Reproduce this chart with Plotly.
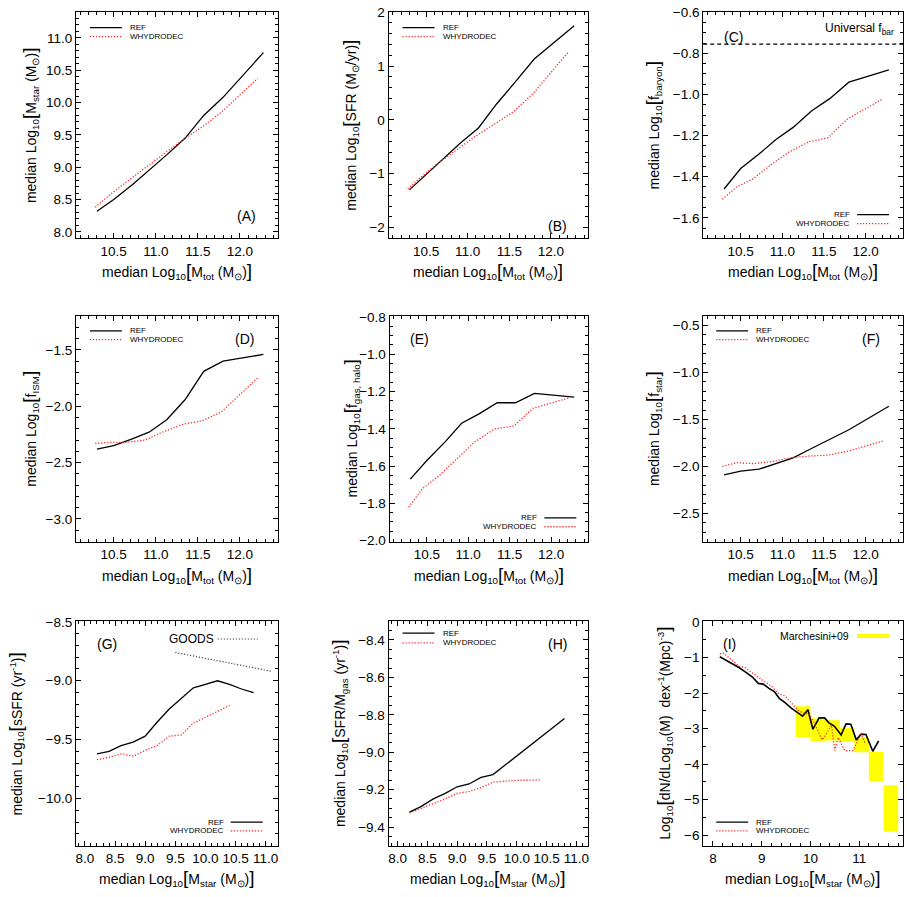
import plotly.graph_objects as go

W, H = 907, 897
FONT = "Liberation Sans, Arial, sans-serif"
RED = "#ff2020"
DOT = "1.2px,1.8px"

# ---------------- data ----------------
# top two rows: median total mass per bin
mtot_ref = [10.30, 10.50, 10.72, 10.92, 11.13, 11.35, 11.57, 11.80, 12.28]
mtot_why = [10.28, 10.45, 10.65, 10.87, 11.08, 11.32, 11.55, 11.78, 12.21]

mstar_ref_A = [8.32, 8.50, 8.73, 8.95, 9.19, 9.45, 9.80, 10.08, 10.77]
mstar_why_A = [8.38, 8.57, 8.77, 8.99, 9.19, 9.42, 9.62, 9.85, 10.37]

sfr_ref_B = [-1.30, -1.02, -0.70, -0.42, -0.15, 0.30, 0.70, 1.13, 1.75]
sfr_why_B = [-1.28, -1.05, -0.80, -0.55, -0.32, -0.08, 0.15, 0.48, 1.26]

fbar_ref_C = [-1.46, -1.36, -1.29, -1.22, -1.16, -1.08, -1.02, -0.94, -0.88]
fbar_why_C = [-1.51, -1.45, -1.41, -1.34, -1.28, -1.23, -1.21, -1.12, -1.02]
fbar_universal = -0.755

fism_ref_D = [-2.38, -2.35, -2.29, -2.23, -2.12, -1.94, -1.69, -1.60, -1.54]
fism_why_D = [-2.33, -2.32, -2.32, -2.30, -2.23, -2.16, -2.13, -2.05, -1.75]

fgas_ref_E = [-1.67, -1.57, -1.47, -1.37, -1.32, -1.26, -1.26, -1.21, -1.23]
fgas_why_E = [-1.82, -1.72, -1.65, -1.56, -1.47, -1.40, -1.385, -1.29, -1.235]

fstar_ref_F = [-2.09, -2.05, -2.03, -1.97, -1.91, -1.81, -1.71, -1.61, -1.36]
fstar_why_F = [-2.00, -1.96, -1.97, -1.95, -1.91, -1.89, -1.88, -1.84, -1.73]

# bottom row: median stellar mass per bin
mst_ref = [8.2, 8.4, 8.6, 8.8, 9.0, 9.2, 9.4, 9.6, 9.8, 10.0, 10.2, 10.4, 10.6, 10.8]
mst_why = [8.2, 8.4, 8.6, 8.8, 9.0, 9.2, 9.4, 9.6, 9.8, 10.0, 10.2, 10.4]

ssfr_ref_G = [-9.62, -9.60, -9.55, -9.52, -9.47, -9.35, -9.24, -9.15, -9.06, -9.03, -9.00, -9.03, -9.07, -9.10]
ssfr_why_G = [-9.67, -9.65, -9.62, -9.64, -9.59, -9.55, -9.47, -9.46, -9.36, -9.31, -9.26, -9.21]
goods_x = [9.5, 11.1]
goods_y = [-8.76, -8.92]

sfe_ref_H = [-9.32, -9.29, -9.25, -9.22, -9.185, -9.17, -9.135, -9.12, -9.07, -9.02, -8.97, -8.92, -8.87, -8.82]
sfe_why_H = [-9.325, -9.30, -9.275, -9.25, -9.22, -9.21, -9.19, -9.16, -9.155, -9.15, -9.15, -9.148]

smf_ref_x = [8.14, 8.26, 8.40, 8.54, 8.67, 8.81, 8.93, 9.03, 9.15, 9.26, 9.36, 9.48, 9.60, 9.71, 9.84,
             9.95, 10.05, 10.18, 10.29, 10.38, 10.49, 10.63, 10.73, 10.83, 10.94, 11.04, 11.14, 11.28, 11.40]
smf_ref_y = [-0.98, -1.07, -1.18, -1.29, -1.41, -1.55, -1.73, -1.75, -1.87, -1.96, -2.15, -2.27, -2.42, -2.52, -2.65,
             -2.47, -3.02, -2.70, -2.70, -2.84, -2.93, -3.18, -2.87, -2.88, -3.32, -3.16, -3.17, -3.64, -3.35]
smf_why_x = [8.14, 8.22, 8.40, 8.54, 8.64, 8.81, 8.93, 9.07, 9.21, 9.36, 9.48, 9.60, 9.73, 9.84,
             9.96, 10.07, 10.24, 10.33, 10.43, 10.50, 10.57, 10.70, 10.87, 11.04, 11.12]
smf_why_y = [-0.90, -0.88, -1.09, -1.25, -1.27, -1.44, -1.57, -1.69, -1.82, -2.03, -2.08, -2.27, -2.47, -2.56,
             -2.58, -2.82, -3.32, -3.14, -2.90, -3.62, -3.25, -3.62, -3.62, -3.16, -3.40]

march_xlo = [9.7, 10.0, 10.3, 10.6, 10.9, 11.2, 11.5]
march_xhi = [10.0, 10.3, 10.6, 10.9, 11.2, 11.5, 11.8]
march_ylo = [-3.25, -3.35, -3.34, -3.37, -3.67, -4.48, -5.90]
march_yhi = [-2.37, -2.71, -2.77, -2.97, -3.25, -3.66, -4.60]

# ---------------- layout helpers ----------------
def px(x):
    return x / W

def py(y):
    return 1 - y / H

# panel boxes in pixels: (left, right, top, bottom)
boxes = {
    1: (76, 278, 5, 235), 2: (389, 589, 5, 235), 3: (704, 904, 5, 235),
    4: (76, 278, 314, 543), 5: (390, 589, 314, 543), 6: (704, 904, 314, 543),
    7: (76, 278, 624, 852), 8: (389, 589, 624, 852), 9: (704, 904, 624, 852),
}

fig = go.Figure()

def ax(k):
    return ("x" if k == 1 else f"x{k}"), ("y" if k == 1 else f"y{k}")

def line(k, x, y, ref=True, **kw):
    xa, ya = ax(k)
    if ref:
        style = dict(color="black", width=1.3)
    else:
        style = dict(color=RED, width=1.3, dash=DOT)
    style.update(kw)
    fig.add_trace(go.Scatter(x=x, y=y, mode="lines", line=style, xaxis=xa, yaxis=ya,
                             showlegend=False, hoverinfo="skip"))

# Marchesini boxes (panel I) drawn first
for xl, xh, yl, yh in zip(march_xlo, march_xhi, march_ylo, march_yhi):
    fig.add_trace(go.Scatter(x=[xl, xh, xh, xl, xl], y=[yl, yl, yh, yh, yl], mode="lines",
                             fill="toself", fillcolor="#ffff00", line=dict(width=0, color="#ffff00"),
                             xaxis="x9", yaxis="y9", showlegend=False, hoverinfo="skip"))

line(1, mtot_ref, mstar_ref_A); line(1, mtot_why, mstar_why_A, ref=False)
line(2, mtot_ref, sfr_ref_B); line(2, mtot_why, sfr_why_B, ref=False)
line(3, mtot_ref, fbar_ref_C); line(3, mtot_why, fbar_why_C, ref=False)
line(4, mtot_ref, fism_ref_D); line(4, mtot_why, fism_why_D, ref=False)
line(5, mtot_ref, fgas_ref_E); line(5, mtot_why, fgas_why_E, ref=False)
line(6, mtot_ref, fstar_ref_F); line(6, mtot_why, fstar_why_F, ref=False)
line(7, goods_x, goods_y, color="#444444", width=1.2, dash=DOT)
line(7, mst_ref, ssfr_ref_G); line(7, mst_why, ssfr_why_G, ref=False)
line(8, mst_ref, sfe_ref_H); line(8, mst_why, sfe_why_H, ref=False)
line(9, smf_ref_x, smf_ref_y, width=1.6); line(9, smf_why_x, smf_why_y, ref=False)

# axes
xr_top = [10.05, 12.45]
xr_bot = [7.85, 11.2]
axes_cfg = {
    1: dict(xr=xr_top, xd=0.5, xm=0.1, xf=".1f", yr=[7.9, 11.4], yd=0.5, ym=0.1, yf=".1f", y0=8.0),
    2: dict(xr=xr_top, xd=0.5, xm=0.1, xf=".1f", yr=[-2.2, 2.005], yd=1, ym=0.2, yf="d", y0=0),
    3: dict(xr=xr_top, xd=0.5, xm=0.1, xf=".1f", yr=[-1.7, -0.598], yd=0.2, ym=0.05, yf=".1f", y0=-1.0),
    4: dict(xr=xr_top, xd=0.5, xm=0.1, xf=".1f", yr=[-3.2, -1.2], yd=0.5, ym=0.1, yf=".1f", y0=-2.0),
    5: dict(xr=xr_top, xd=0.5, xm=0.1, xf=".1f", yr=[-2.005, -0.795], yd=0.2, ym=0.05, yf=".1f", y0=-1.0),
    6: dict(xr=xr_top, xd=0.5, xm=0.1, xf=".1f", yr=[-2.8, -0.4], yd=0.5, ym=0.1, yf=".1f", y0=-2.0),
    7: dict(xr=xr_bot, xd=0.5, xm=0.1, xf=".1f", yr=[-10.4, -8.495], yd=0.5, ym=0.1, yf=".1f", y0=-9.0),
    8: dict(xr=xr_bot, xd=0.5, xm=0.1, xf=".1f", yr=[-9.5, -8.3], yd=0.2, ym=0.05, yf=".1f", y0=-9.0),
    9: dict(xr=[7.8, 11.9], xd=1, xm=0.2, xf="d", yr=[-6.3, 0.02], yd=1, ym=0.5, yf="d", y0=0),
}

lay = {}
tickfont = dict(family=FONT, size=13.5, color="black")
for k, c in axes_cfg.items():
    l, r, t, b = boxes[k]
    xname = "xaxis" if k == 1 else f"xaxis{k}"
    yname = "yaxis" if k == 1 else f"yaxis{k}"
    xa, ya = ax(k)
    common = dict(showline=True, linecolor="black", linewidth=1, mirror="allticks", ticks="inside",
                  ticklen=5, tickcolor="black", tickwidth=1, showgrid=False, zeroline=False,
                  tickfont=tickfont, fixedrange=True)
    lay[xname] = dict(domain=[px(l), px(r)], anchor=ya, range=c["xr"], tick0=10.0 if k < 7 else 8.0,
                      dtick=c["xd"], tickformat=c["xf"],
                      minor=dict(ticks="inside", ticklen=3, dtick=c["xm"], tickcolor="black", showgrid=False),
                      **common)
    lay[yname] = dict(domain=[py(b), py(t)], anchor=xa, range=c["yr"], tick0=c["y0"], dtick=c["yd"],
                      tickformat=c["yf"],
                      minor=dict(ticks="inside", ticklen=3, dtick=c["ym"], tickcolor="black", showgrid=False),
                      **common)

ann = []
shapes = []

def text(x, y, s, size=13.5, xanchor="center", yanchor="middle", angle=0):
    ann.append(dict(x=px(x), y=py(y), xref="paper", yref="paper", text=s, showarrow=False,
                    xanchor=xanchor, yanchor=yanchor, textangle=angle,
                    font=dict(family=FONT, size=size, color="black")))

BR_L = '<span style="font-size:19px">[</span>'
BR_R = '<span style="font-size:19px">]</span>'
LOG = "Log<sub>10</sub>"
MSUN = "M<sub>⊙</sub>"

xt_tot = f"median {LOG}{BR_L}M<sub>tot</sub> ({MSUN}){BR_R}"
xt_star = f"median {LOG}{BR_L}M<sub>star</sub> ({MSUN}){BR_R}"
for k, yy in [(1, 268), (2, 268), (3, 268), (4, 577), (5, 577), (6, 577)]:
    l, r, t, b = boxes[k]
    text((l + r) / 2, yy, xt_tot, size=14)
for k in (7, 8, 9):
    l, r, t, b = boxes[k]
    text((l + r) / 2, 885, xt_star, size=14)

ytitles = {
    1: (30, f"median {LOG}{BR_L}M<sub>star</sub> ({MSUN}){BR_R}"),
    2: (351, f"median {LOG}{BR_L}SFR ({MSUN}/yr){BR_R}"),
    3: (654, f"median {LOG}{BR_L}f<sub>baryon</sub>{BR_R}"),
    4: (30, f"median {LOG}{BR_L}f<sub>ISM</sub>{BR_R}"),
    5: (351, f"median {LOG}{BR_L}f<sub>gas, halo</sub>{BR_R}"),
    6: (654, f"median {LOG}{BR_L}f<sub>star</sub>{BR_R}"),
    7: (16, f"median {LOG}{BR_L}sSFR (yr<sup>-1</sup>){BR_R}"),
    8: (340, f"median {LOG}{BR_L}SFR/M<sub>gas</sub> (yr<sup>-1</sup>){BR_R}"),
    9: (665, f"{LOG}{BR_L}dN/d{LOG}(M)  dex<sup>-1</sup>(Mpc)<sup>-3</sup>{BR_R}"),
}
for k, (xx, s) in ytitles.items():
    l, r, t, b = boxes[k]
    text(xx, (t + b) / 2, s, size=14, angle=-90)

# panel labels
for s, (x, y) in {"(A)": (247, 212), "(B)": (558, 222), "(C)": (734, 30), "(D)": (245, 337),
                  "(E)": (420, 337), "(F)": (872, 337), "(G)": (107, 647), "(H)": (558, 647),
                  "(I)": (730, 647)}.items():
    text(x, y, s, size=14)

# legends
def seg(x0, x1, y, ref=True, color=None, width=None, dash=None):
    if ref:
        d = dict(color=color or "black", width=width or 1.3)
    else:
        d = dict(color=color or RED, width=width or 1.3, dash=dash or DOT)
    if dash and ref:
        d["dash"] = dash
    shapes.append(dict(type="line", xref="paper", yref="paper", x0=px(x0), x1=px(x1), y0=py(y), y1=py(y),
                       line=d))

LS = 8
def legend_left(x0, y0, dy=9):
    seg(x0, x0 + 32, y0, ref=True)
    seg(x0, x0 + 32, y0 + dy, ref=False)
    text(x0 + 38, y0, "REF", size=LS, xanchor="left")
    text(x0 + 38, y0 + dy, "WHYDRODEC", size=LS, xanchor="left")

def legend_right(xr, y0, dy=9):
    seg(xr - 32, xr, y0, ref=True)
    seg(xr - 32, xr, y0 + dy, ref=False)
    text(xr - 37, y0, "REF", size=LS, xanchor="right")
    text(xr - 37, y0 + dy, "WHYDRODEC", size=LS, xanchor="right")

legend_left(90, 21)
legend_left(403, 21)
legend_right(890, 211)
legend_left(90, 329)
legend_right(577, 519)
legend_left(717, 329)
legend_right(263, 828)
legend_left(403, 636, dy=10)
legend_left(717, 828)

# universal baryon fraction line (panel C)
shapes.append(dict(type="line", xref="x3 domain", yref="y3", x0=0, x1=1, y0=fbar_universal, y1=fbar_universal,
                   line=dict(color="black", width=1.2, dash="4px,3px")))
text(897, 32, "Universal f<sub>bar</sub>", size=12, xanchor="right", yanchor="bottom")

# GOODS legend (panel G)
text(192, 642, "GOODS", size=12)
seg(218, 258, 642, ref=True, color="#444444", width=1.2, dash=DOT)

# Marchesini legend (panel I)
text(852, 639, "Marchesini+09", size=10.5, xanchor="right")
seg(858, 890, 639, ref=True, color="#ffff00", width=4)

fig.update_layout(width=W, height=H, margin=dict(l=0, r=0, t=0, b=0), paper_bgcolor="white",
                  plot_bgcolor="white", showlegend=False, annotations=ann, shapes=shapes,
                  font=dict(family=FONT, color="black"), **lay)

fig.write_html("out.html")
